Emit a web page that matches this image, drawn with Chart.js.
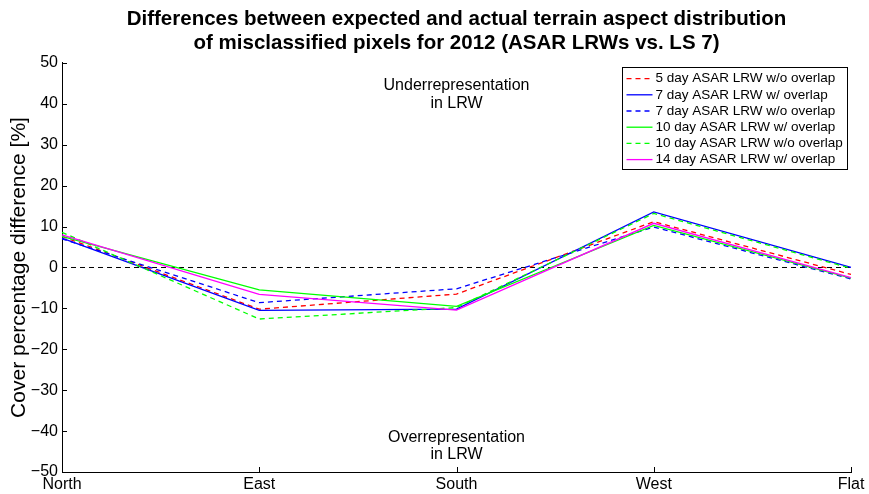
<!DOCTYPE html>
<html>
<head>
<meta charset="utf-8">
<script src="https://cdn.jsdelivr.net/npm/chart.js@4/dist/chart.umd.min.js"></script>
<style>
  html, body { margin: 0; padding: 0; background: #fff; }
  #wrap { width: 869px; height: 494px; }
</style>
</head>
<body>
<div id="wrap"><canvas id="aspectChart" width="869" height="494"></canvas></div>
<script>
// aspect classes along the x axis
const aspects = ['North', 'East', 'South', 'West', 'Flat'];
const yTicks = [-50, -40, -30, -20, -10, 0, 10, 20, 30, 40, 50];

// difference between expected and actual share per aspect [%]
const day5NoOverlap  = [7.6, -10.2, -6.5, 11.2, -1.7];
const day7Overlap    = [7.2, -10.5, -10.2, 13.6, 0.0];
const day7NoOverlap  = [7.0, -8.6, -5.2, 9.9, -2.8];
const day10Overlap   = [7.6, -5.5, -9.5, 10.3, -2.6];
const day10NoOverlap = [8.6, -12.6, -9.8, 13.2, -0.2];
const day14Overlap   = [8.0, -6.6, -10.4, 10.8, -2.5];
const zeroLine       = [0, 0, 0, 0, 0];

const FONT = '"Liberation Sans", Arial, sans-serif';
const dash = [5, 4];

const series = [
    { label: '5 day ASAR LRW w/o overlap', data: day5NoOverlap, color: '#ff0000', dashed: true },
    { label: '7 day ASAR LRW w/ overlap', data: day7Overlap, color: '#0000ff', dashed: false },
    { label: '7 day ASAR LRW w/o overlap', data: day7NoOverlap, color: '#0000ff', dashed: true },
    { label: '10 day ASAR LRW w/ overlap', data: day10Overlap, color: '#00ff00', dashed: false },
    { label: '10 day ASAR LRW w/o overlap', data: day10NoOverlap, color: '#00ff00', dashed: true },
    { label: '14 day ASAR LRW w/ overlap', data: day14Overlap, color: '#ff00ff', dashed: false }
];

const datasets = series.map((s, i) => ({
    label: s.label,
    data: s.data,
    borderColor: s.color,
    backgroundColor: s.color,
    borderWidth: 1.3,
    borderDash: s.dashed ? dash : [],
    pointRadius: 0,
    tension: 0,
    fill: false,
    order: series.length - i
}));

datasets.push({
    label: 'zero',
    data: zeroLine,
    borderColor: '#000',
    borderWidth: 1,
    borderDash: dash,
    pointRadius: 0,
    fill: false,
    order: 99
});

// inward tick marks, annotations and the boxed legend
const extras = {
    id: 'extras',
    afterDraw(chart) {
        const ctx = chart.ctx;
        const area = chart.chartArea;
        const x = chart.scales.x;
        const y = chart.scales.y;
        ctx.save();

        ctx.strokeStyle = '#000';
        ctx.lineWidth = 1;
        ctx.setLineDash([]);
        ctx.beginPath();
        yTicks.forEach(v => {
            const py = Math.round(y.getPixelForValue(v)) + 0.5;
            ctx.moveTo(area.left, py);
            ctx.lineTo(area.left + 5, py);
        });
        aspects.forEach((a, i) => {
            const px = Math.round(x.getPixelForValue(i)) + 0.5;
            ctx.moveTo(px, area.bottom);
            ctx.lineTo(px, area.bottom - 5);
        });
        ctx.stroke();

        ctx.fillStyle = '#000';
        ctx.font = '16px ' + FONT;
        ctx.textAlign = 'center';
        ctx.textBaseline = 'middle';
        const cx = x.getPixelForValue(2);
        ctx.fillText('Underrepresentation', cx, y.getPixelForValue(44.5));
        ctx.fillText('in LRW', cx, y.getPixelForValue(40.1));
        ctx.fillText('Overrepresentation', cx, y.getPixelForValue(-41.6));
        ctx.fillText('in LRW', cx, y.getPixelForValue(-45.7));

        // legend
        ctx.font = '13.5px ' + FONT;
        const rowH = 16.2;
        const sample = 26;
        let textW = 0;
        series.forEach(s => { textW = Math.max(textW, ctx.measureText(s.label).width); });
        const boxW = Math.round(4 + sample + 3 + textW + 5);
        const boxH = Math.round(rowH * series.length + 5);
        const bx = Math.round(area.right - 4 - boxW) + 0.5;
        const by = Math.round(area.top + 4) + 0.5;
        ctx.fillStyle = '#fff';
        ctx.fillRect(bx, by, boxW, boxH);
        ctx.strokeStyle = '#000';
        ctx.strokeRect(bx, by, boxW, boxH);
        ctx.textAlign = 'left';
        series.forEach((s, i) => {
            const ry = by + 3 + rowH * (i + 0.5);
            ctx.strokeStyle = s.color;
            ctx.lineWidth = 1.3;
            ctx.setLineDash(s.dashed ? dash : []);
            ctx.beginPath();
            ctx.moveTo(bx + 4, ry);
            ctx.lineTo(bx + 4 + sample, ry);
            ctx.stroke();
            ctx.fillStyle = '#000';
            ctx.fillText(s.label, bx + 4 + sample + 3, ry);
        });
        ctx.restore();
    }
};

const ctx = document.getElementById('aspectChart').getContext('2d');
new Chart(ctx, {
    type: 'line',
    data: { labels: aspects, datasets: datasets },
    options: {
        responsive: false,
        animation: false,
        layout: { padding: { left: 7, right: 18, top: 0, bottom: 0 } },
        plugins: {
            legend: { display: false },
            tooltip: { enabled: false },
            title: {
                display: true,
                fullSize: false,
                text: ['Differences between expected and actual terrain aspect distribution',
                       'of misclassified pixels for 2012 (ASAR LRWs vs. LS 7)'],
                color: '#000',
                font: { family: FONT, size: 20.5, weight: 'bold', lineHeight: 1.17 },
                padding: { top: 7, bottom: 8 }
            }
        },
        scales: {
            x: {
                type: 'category',
                offset: false,
                grid: { display: true, drawOnChartArea: false, drawTicks: false },
                border: { display: true, color: '#000', width: 1 },
                ticks: { color: '#000', font: { family: FONT, size: 16 }, padding: 3, maxRotation: 0, autoSkip: false },
                afterFit(scale) { scale.height = 22; }
            },
            y: {
                min: -50,
                max: 50,
                afterBuildTicks(scale) { scale.ticks = yTicks.map(v => ({ value: v })); },
                grid: { display: true, drawOnChartArea: false, drawTicks: false },
                border: { display: true, color: '#000', width: 1 },
                ticks: {
                    color: '#000',
                    font: { family: FONT, size: 16 },
                    padding: 4,
                    callback: v => String(v).replace('-', '\u2212')
                },
                title: {
                    display: true,
                    text: 'Cover percentage difference [%]',
                    color: '#000',
                    font: { family: FONT, size: 21 },
                    padding: { top: 0, bottom: 0 }
                },
                afterFit(scale) { scale.width = 55; }
            }
        }
    },
    plugins: [extras]
});
</script>
</body>
</html>
